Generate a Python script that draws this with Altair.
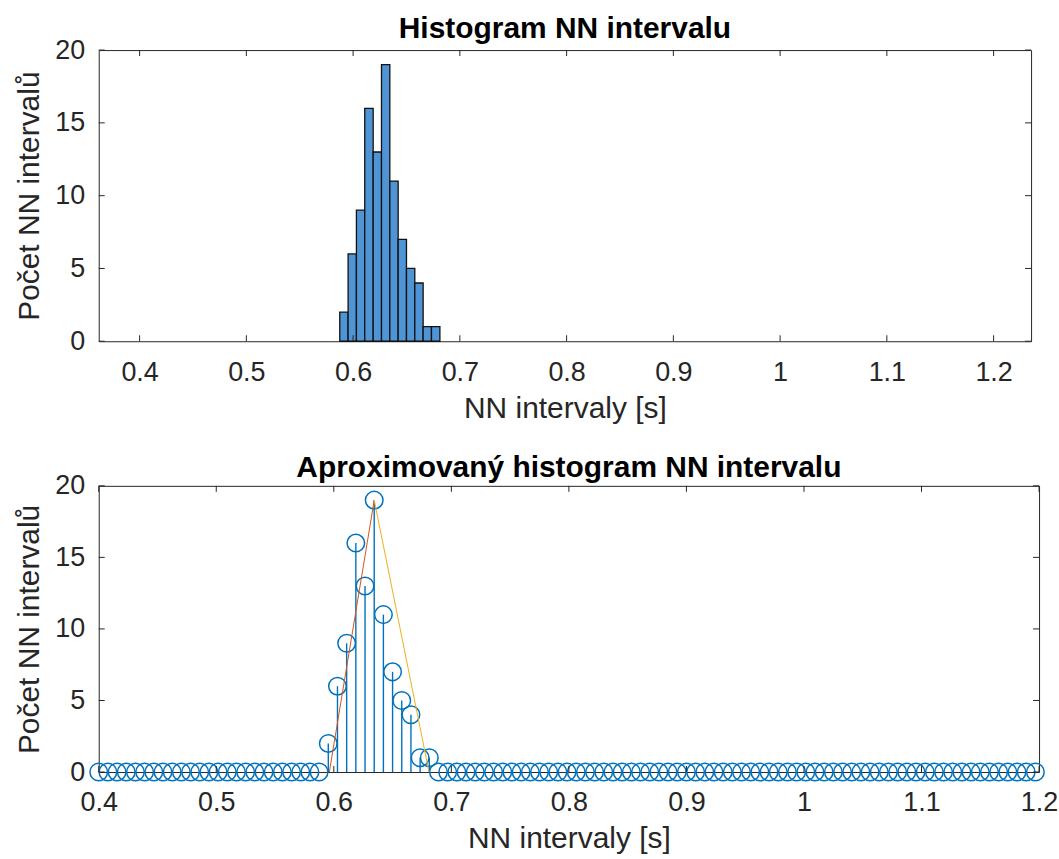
import altair as alt
import pandas as pd

# ---------------- data ----------------
# top: histogram of NN intervals (bin edges in s, counts)
hist_bin_start = [0.5875, 0.5953, 0.6031, 0.6109, 0.6188, 0.6266,
                  0.6344, 0.6422, 0.6500, 0.6578, 0.6656, 0.6734]
hist_bin_end = [0.5953, 0.6031, 0.6109, 0.6188, 0.6266, 0.6344,
                0.6422, 0.6500, 0.6578, 0.6656, 0.6734, 0.6813]
hist_counts = [2, 6, 9, 16, 13, 19, 11, 7, 5, 4, 1, 1]

# bottom: sampled (approximated) histogram, sampling grid 0.4 .. 1.2 s, step 1/128 s
stem_start = 0.4
stem_step = 0.0078125
stem_counts = [0] * 25 + [2, 6, 9, 16, 13, 19, 11, 7, 5, 4, 1, 1] + [0] * 66
stem_x = [stem_start + k * stem_step for k in range(len(stem_counts))]

# TINN triangle sides
tri_left_x = [0.5962, 0.6344]
tri_left_y = [0, 19]
tri_right_x = [0.6344, 0.6810]
tri_right_y = [19, 0]

x_ticks = [0.4, 0.5, 0.6, 0.7, 0.8, 0.9, 1.0, 1.1, 1.2]
y_ticks = [0, 5, 10, 15, 20]

top_x_domain = [0.3617, 1.2351]
bot_x_domain = [0.4, 1.2]
y_domain = [0, 20]

# ---------------- styling ----------------
FONT = "Liberation Sans"
AX = "#262626"
BLUE = "#0072BD"
TICK = 6

df_hist = pd.DataFrame({"x0": hist_bin_start, "x1": hist_bin_end, "n": hist_counts})
df_stem = pd.DataFrame({"x": stem_x, "n": stem_counts})
df_tl = pd.DataFrame({"x": tri_left_x, "y": tri_left_y})
df_tr = pd.DataFrame({"x": tri_right_x, "y": tri_right_y})
df_xt = pd.DataFrame({"t": x_ticks})
df_yt = pd.DataFrame({"t": y_ticks})


def tick_layers(xscale, yscale, w, h):
    bx = alt.Chart(df_xt).mark_rule(color=AX, strokeWidth=1).encode(
        x=alt.X("t:Q", scale=xscale), y=alt.value(h), y2=alt.value(h - TICK))
    tx = alt.Chart(df_xt).mark_rule(color=AX, strokeWidth=1).encode(
        x=alt.X("t:Q", scale=xscale), y=alt.value(0), y2=alt.value(TICK))
    ly = alt.Chart(df_yt).mark_rule(color=AX, strokeWidth=1).encode(
        y=alt.Y("t:Q", scale=yscale), x=alt.value(0), x2=alt.value(TICK))
    ry = alt.Chart(df_yt).mark_rule(color=AX, strokeWidth=1).encode(
        y=alt.Y("t:Q", scale=yscale), x=alt.value(w), x2=alt.value(w - TICK))
    return [bx, tx, ly, ry]


def x_axis(lp, tp):
    return alt.Axis(values=x_ticks, format="~g", title="NN intervaly [s]",
                    labelFlush=False, labelPadding=lp, titlePadding=tp,
                    domain=False, ticks=False, grid=False)


def y_axis():
    return alt.Axis(values=y_ticks, format="d", title="Počet NN intervalů",
                    labelPadding=14, titlePadding=10,
                    domain=False, ticks=False, grid=False)


# ---------------- top chart ----------------
W1, H1 = 935, 292
xs1 = alt.Scale(domain=top_x_domain, nice=False, zero=False)
ys = alt.Scale(domain=y_domain, nice=False)

bars = alt.Chart(df_hist).mark_bar(fill="#4F94D4", stroke="#111111", strokeWidth=1.3).encode(
    x=alt.X("x0:Q", scale=xs1, axis=x_axis(18, 8)),
    x2="x1:Q",
    y=alt.Y("n:Q", scale=ys, axis=y_axis()),
    y2=alt.datum(0),
)

top = alt.layer(bars, *tick_layers(xs1, ys, W1, H1)).properties(
    width=W1, height=H1,
    title=alt.TitleParams("Histogram NN intervalu", offset=-8),
)

# ---------------- bottom chart ----------------
W2, H2 = 943, 287
xs2 = alt.Scale(domain=bot_x_domain, nice=False, zero=False)

stems = alt.Chart(df_stem).mark_rule(color=BLUE, strokeWidth=1.4).encode(
    x=alt.X("x:Q", scale=xs2, axis=x_axis(18, 8)),
    y=alt.Y("n:Q", scale=ys, axis=y_axis()),
    y2=alt.datum(0),
)
circles = alt.Chart(df_stem).mark_point(shape="circle", filled=False, size=310,
                                         stroke=BLUE, strokeWidth=1.5, opacity=1).encode(
    x=alt.X("x:Q", scale=xs2),
    y=alt.Y("n:Q", scale=ys),
)
left_line = alt.Chart(df_tl).mark_line(color="#D95319", strokeWidth=1).encode(
    x=alt.X("x:Q", scale=xs2), y=alt.Y("y:Q", scale=ys))
right_line = alt.Chart(df_tr).mark_line(color="#EDB120", strokeWidth=1).encode(
    x=alt.X("x:Q", scale=xs2), y=alt.Y("y:Q", scale=ys))

bottom = alt.layer(stems, circles, left_line, right_line, *tick_layers(xs2, ys, W2, H2)).properties(
    width=W2, height=H2,
    title=alt.TitleParams("Aproximovaný histogram NN intervalu", offset=-11),
)

chart = alt.vconcat(top, bottom, spacing=28).properties(
    padding={"left": 14, "top": 12, "right": 0, "bottom": 0},
    background="white",
).configure_view(
    stroke=AX, strokeWidth=1,
).configure_axis(
    labelFont=FONT, labelFontSize=27, labelColor=AX,
    titleFont=FONT, titleFontSize=30, titleFontWeight="normal", titleColor=AX,
).configure_title(
    font=FONT, fontSize=30, fontWeight="bold", color="#000000", anchor="middle",
)

chart.save("out.html", embed_options={"renderer": "svg", "actions": False})
